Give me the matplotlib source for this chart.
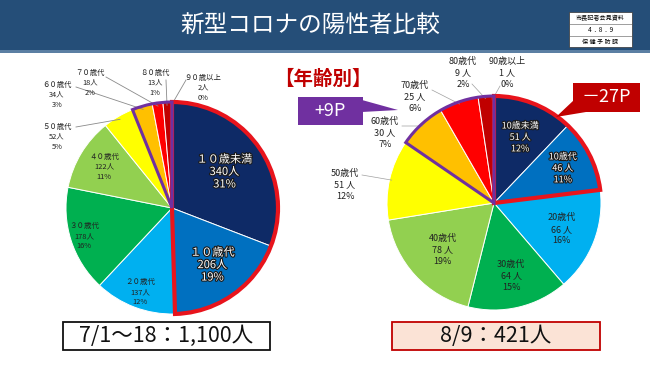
import matplotlib
matplotlib.use("Agg")
import matplotlib.pyplot as plt
from matplotlib.patches import Wedge, Rectangle, Polygon
import matplotlib.patheffects as pe
import numpy as np

plt.rcParams['font.family'] = ['Noto Sans CJK JP', 'DejaVu Sans']

# ---------------- data ----------------
age_groups = ["10歳未満", "10歳代", "20歳代", "30歳代", "40歳代",
              "50歳代", "60歳代", "70歳代", "80歳代", "90歳以上"]
left_names = ["１０歳未満", "１０歳代", "２０歳代", "３０歳代", "４０歳代",
              "５０歳代", "６０歳代", "７０歳代", "８０歳代", "９０歳以上"]
left_counts = [340, 206, 137, 178, 122, 52, 34, 18, 13, 2]
left_pcts = [31, 19, 12, 16, 11, 5, 3, 2, 1, 0]
right_counts = [51, 46, 66, 64, 78, 51, 30, 25, 9, 1]
right_pcts = [12, 11, 16, 15, 19, 12, 7, 6, 2, 0]
colors = ["#0E2A66", "#0070C0", "#00B0F0", "#00B050", "#92D050",
          "#FFFF00", "#FFC000", "#FF0000", "#C00000", "#7030A0"]
title = "新型コロナの陽性者比較"
subtitle = "【年齢別】"
left_total_label = "7/1～18：1,100人"
right_total_label = "8/9：421人"
left_change = "+9P"
right_change = "－27P"

W, H = 650, 365
def Y(y):
    return H - y

fig = plt.figure(figsize=(6.5, 3.65), dpi=100)
ax = fig.add_axes([0, 0, 1, 1])

# header
ax.add_patch(Rectangle((0, Y(50)), W, 50, facecolor="#254E78", edgecolor="none", zorder=1))
ax.add_patch(Rectangle((0, Y(53)), W, 3, facecolor="#5B7FA3", edgecolor="none", zorder=1))
ax.text(310, Y(26), title, color="white", fontsize=17, ha="center", va="center", zorder=3)
# stamp
ax.add_patch(Rectangle((569, Y(47)), 63, 35, facecolor="white", edgecolor="#333333", lw=0.5, zorder=3))
for yy in (Y(24), Y(35.5)):
    ax.plot([569, 632], [yy, yy], color="#555555", lw=0.4, zorder=4)
ax.text(600.5, Y(18), "市長記者会見資料", fontsize=4.4, ha="center", va="center", zorder=5)
ax.text(600.5, Y(30), "4  .  8  .  9", fontsize=4.6, ha="center", va="center", zorder=5)
ax.text(600.5, Y(41.5), "保 健 予 防 課", fontsize=4.4, ha="center", va="center", zorder=5)


def draw_pie(counts, cx, cy, r):
    ax.pie(counts, colors=colors, startangle=90, counterclock=False,
           center=(cx, Y(cy)), radius=r,
           wedgeprops=dict(edgecolor="white", linewidth=0.7), frame=True)
    total = sum(counts)
    cum = np.cumsum([0] + list(counts))
    starts = 90 - 360 * cum[:-1] / total
    ends = 90 - 360 * cum[1:] / total
    return starts, ends, total


def border(cx, cy, r, a_start, a_end, color, lw):
    ax.add_patch(Wedge((cx, Y(cy)), r, a_end, a_start, fill=False,
                       edgecolor=color, linewidth=lw, zorder=6,
                       joinstyle="miter"))


def pt(cx, cy, r, ang):
    a = np.deg2rad(ang)
    return cx + r * np.cos(a), Y(cy) + r * np.sin(a)

outline_dark = [pe.withStroke(linewidth=1.6, foreground="#1a1a1a")]

# ---------------- left pie ----------------
lcx, lcy, lr = 172, 208, 106
ls, le, lt = draw_pie(left_counts, lcx, lcy, lr)
border(lcx, lcy, lr, ls[0], le[1], "#E8141C", 3.0)
border(lcx, lcy, lr, ls[6], le[9], "#7030A0", 2.2)

inside_r_left = [0.6, 0.66, 0.85, 0.87, 0.75]
for i in range(5):
    mid = (ls[i] + le[i]) / 2
    x, y = pt(lcx, lcy, lr * inside_r_left[i], mid)
    txt = f"{left_names[i]}\n{left_counts[i]}人\n{left_pcts[i]}%"
    if i < 2:
        ax.text(x, y, txt, fontsize=8, color="white", ha="center", va="center",
                linespacing=1.3, path_effects=outline_dark, zorder=7)
    else:
        ax.text(x, y, txt, fontsize=5.4, color="#222222", ha="center", va="center",
                linespacing=1.35, zorder=7)

left_out_pos = {5: (57, 137), 6: (57, 95), 7: (90, 83), 8: (155, 83), 9: (203, 88)}
left_line_start = {5: (76, 127), 6: (76, 87), 7: (106, 77), 8: (166, 80), 9: (186, 80)}
for i, (tx, ty) in left_out_pos.items():
    mid = (ls[i] + le[i]) / 2
    ex, ey = pt(lcx, lcy, lr * 0.97, mid)
    sx, sy = left_line_start[i]
    ax.plot([sx, ex], [Y(sy), ey], color="#8a8a8a", lw=0.6, zorder=5)
    ax.text(tx, Y(ty), f"{left_names[i]}\n{left_counts[i]}人\n{left_pcts[i]}%",
            fontsize=5.3, color="#222222", ha="center", va="center",
            linespacing=1.4, zorder=7)

# ---------------- right pie ----------------
rcx, rcy, rr = 494, 203, 107
rs, re_, rt = draw_pie(right_counts, rcx, rcy, rr)
border(rcx, rcy, rr, rs[0], re_[1], "#E8141C", 3.0)
border(rcx, rcy, rr, rs[6], re_[9], "#7030A0", 2.2)

inside_r_right = [0.66, 0.72, 0.68, 0.70, 0.65]
for i in range(5):
    mid = (rs[i] + re_[i]) / 2
    x, y = pt(rcx, rcy, rr * inside_r_right[i], mid)
    txt = f"{age_groups[i]}\n{right_counts[i]} 人\n{right_pcts[i]}%"
    if i < 2:
        ax.text(x, y, txt, fontsize=6.5, color="white", ha="center", va="center",
                linespacing=1.35, path_effects=outline_dark, zorder=7)
    else:
        ax.text(x, y, txt, fontsize=6.5, color="#222222", ha="center", va="center",
                linespacing=1.35, zorder=7)

right_out_pos = {5: (345, 185), 6: (385, 133), 7: (415, 97), 8: (463, 73), 9: (507, 73)}
right_line_start = {5: (362, 175), 6: (402, 126), 7: (432, 90), 8: (472, 84), 9: (500, 86)}
for i, (tx, ty) in right_out_pos.items():
    mid = (rs[i] + re_[i]) / 2
    ex, ey = pt(rcx, rcy, rr * 0.98, mid)
    sx, sy = right_line_start[i]
    ax.plot([sx, ex], [Y(sy), ey], color="#a0a0a0", lw=0.5, zorder=5)
    ax.text(tx, Y(ty), f"{age_groups[i]}\n{right_counts[i]} 人\n{right_pcts[i]}%",
            fontsize=6.5, color="#222222", ha="center", va="center",
            linespacing=1.35, zorder=7)

# ---------------- annotations ----------------
ax.text(323, Y(79), subtitle, color="#C00000", fontsize=14, fontweight="bold",
        ha="center", va="center", zorder=8)

ax.add_patch(Rectangle((298, Y(125)), 65, 28, facecolor="#7030A0", edgecolor="none", zorder=8))
ax.add_patch(Polygon([(362, Y(100)), (362, Y(112)), (398, Y(110))], closed=True,
                     facecolor="#7030A0", edgecolor="none", zorder=8))
ax.text(330.5, Y(111), left_change, color="white", fontsize=13, ha="center", va="center", zorder=9)

ax.add_patch(Rectangle((573, Y(112)), 67, 29, facecolor="#C00000", edgecolor="none", zorder=8))
ax.add_patch(Polygon([(574, Y(100)), (586, Y(112)), (556, Y(117))], closed=True,
                     facecolor="#C00000", edgecolor="none", zorder=8))
ax.text(606.5, Y(97.5), right_change, color="white", fontsize=13, ha="center", va="center", zorder=9)

# totals
ax.add_patch(Rectangle((63, Y(350)), 207, 28, facecolor="white", edgecolor="#111111", lw=1.3, zorder=8))
ax.text(166.5, Y(336), left_total_label, fontsize=15.5, color="#111111", ha="center", va="center", zorder=9)
ax.add_patch(Rectangle((392, Y(350)), 208, 28, facecolor="#FBE3D6", edgecolor="#C00000", lw=1.3, zorder=8))
ax.text(496, Y(336), right_total_label, fontsize=15.5, color="#111111", ha="center", va="center", zorder=9)

ax.set_xlim(0, W)
ax.set_ylim(0, H)
ax.set_aspect("auto")
ax.axis("off")

fig.savefig("out.png", dpi=100, facecolor="white")
